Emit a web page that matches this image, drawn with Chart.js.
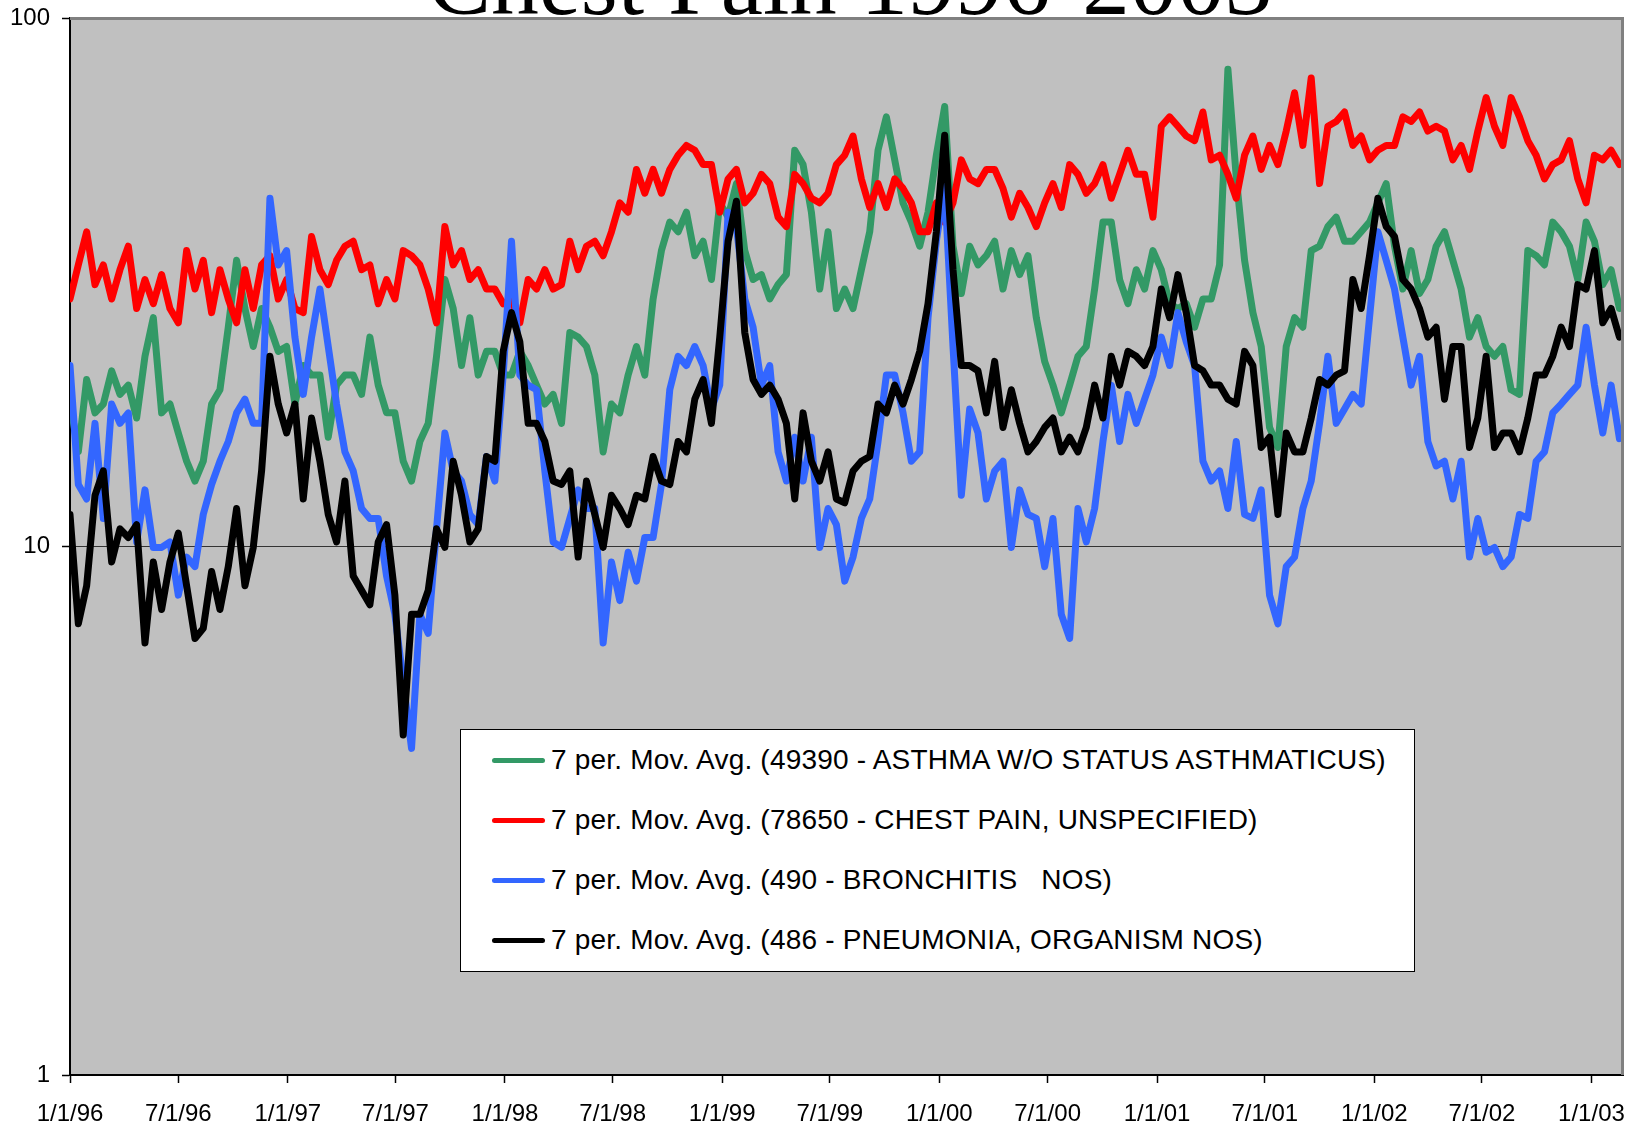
<!DOCTYPE html>
<html>
<head>
<meta charset="utf-8">
<title>Chest Pain 1996-2003</title>
<script src="https://cdn.jsdelivr.net/npm/chart.js@4.4.1/dist/chart.umd.min.js"></script>
<style>
  body { margin: 0; background: #fff; }
  #wrap { position: relative; width: 1633px; height: 1123px; }
  #legend {
    position: absolute; left: 460px; top: 729px; width: 953px; height: 241px;
    border: 1px solid #000; background: #fff;
    font-family: "Liberation Sans", Arial, sans-serif; font-size: 28px; letter-spacing: 0.2px; color: #000;
  }
  .row { height: 60px; display: flex; align-items: center; white-space: pre; }
  .swatch { width: 53px; height: 5px; border-radius: 3px; margin-left: 31px; margin-right: 6px; }
</style>
</head>
<body>
<div id="wrap">
  <canvas id="myChart" width="1633" height="1123"></canvas>
  <div id="legend"></div>
</div>
<script>
var ctx;
var myChart;

// one reading every 14 days, starting 1/1/96
var STEP_DAYS = 14;
var START = Date.UTC(1996, 0, 1);

var chartTitle = 'Chest Pain 1996-2003';

var seriesNames = [
  '7 per. Mov. Avg. (49390 - ASTHMA W/O STATUS ASTHMATICUS)',
  '7 per. Mov. Avg. (78650 - CHEST PAIN, UNSPECIFIED)',
  '7 per. Mov. Avg. (490 - BRONCHITIS   NOS)',
  '7 per. Mov. Avg. (486 - PNEUMONIA, ORGANISM NOS)'
];
var seriesColors = ['#339966', '#ff0000', '#3366ff', '#000000'];

var asthma = [
  18.8,15.1,20.7,17.9,18.6,21.5,19.4,20.2,17.5,22.9,27.1,17.9,18.6,16.4,14.5,13.3,14.5,18.6,19.8,26.0,
  34.8,28.2,23.9,28.2,26.0,23.4,23.9,18.6,22.0,21.1,21.1,16.1,20.2,21.1,21.1,19.4,24.9,20.2,17.9,17.9,
  14.5,13.3,15.8,17.1,22.9,32.0,28.2,22.0,
  27.1,21.1,23.4,23.4,21.1,21.1,23.4,22.0,20.2,18.6,19.4,17.1,25.4,24.9,23.9,21.1,15.1,18.6,17.9,21.1,
  23.9,21.1,29.4,36.3,41.1,39.4,42.9,35.5,37.8,32.0,44.7,42.0,48.6,36.3,32.0,32.7,29.4,31.3,32.7,56.2,
  52.8,42.9,30.7,39.4,28.2,30.7,28.2,
  33.4,39.4,56.2,65.0,53.9,44.7,41.1,37.0,42.9,55.0,68.0,37.0,30.1,37.0,34.1,35.5,37.8,30.7,36.3,32.7,
  35.5,27.1,22.4,20.2,17.9,20.2,22.9,23.9,30.7,41.1,41.1,32.0,28.8,33.4,30.7,36.3,33.4,28.8,28.2,28.8,
  26.0,29.4,29.4,34.1,80.0,50.0,34.8,
  27.7,23.9,16.8,15.4,23.9,27.1,26.0,36.3,37.0,40.3,42.0,37.8,37.8,39.4,41.1,44.7,48.6,37.0,30.7,36.3,
  30.1,32.0,37.0,39.4,34.8,30.7,24.9,27.1,23.9,22.9,23.9,19.8,19.4,36.3,35.5,34.1,41.1,39.4,37.0,32.0,
  41.1,37.8,31.3,33.4,28.2
];

var chestPain = [
  29.4,34.1,39.4,31.3,34.1,29.4,33.4,37.0,28.2,32.0,28.8,32.7,28.2,26.5,36.3,30.7,34.8,27.7,33.4,29.4,
  26.5,33.4,28.2,34.1,35.5,29.4,32.0,28.2,27.7,38.6,33.4,31.3,34.8,37.0,37.8,33.4,34.1,28.8,32.0,29.4,
  36.3,35.5,34.1,30.7,26.5,40.3,34.1,36.3,
  32.0,33.4,30.7,30.7,28.8,29.4,26.5,32.0,30.7,33.4,30.7,31.3,37.8,33.4,37.0,37.8,35.5,39.4,44.7,42.9,
  51.7,46.6,51.7,46.6,51.7,55.0,57.4,56.2,52.8,52.8,42.9,49.6,51.7,44.7,46.6,50.6,48.6,42.0,40.3,50.6,
  48.6,45.6,44.7,46.6,52.8,55.0,59.8,
  49.6,43.8,48.6,43.8,49.6,47.6,44.7,39.4,39.4,44.7,41.1,44.7,53.9,49.6,48.6,51.7,51.7,47.6,42.0,46.6,
  43.8,40.3,44.7,48.6,43.8,52.8,50.6,46.6,48.6,52.8,45.6,50.6,56.2,50.6,50.6,42.0,62.4,65.0,62.4,59.8,
  58.6,66.4,53.9,55.0,50.6,45.6,55.0,
  59.8,51.7,57.4,52.8,61.1,72.2,57.4,77.0,48.6,62.4,63.7,66.4,57.4,59.8,53.9,56.2,57.4,57.4,65.0,63.7,
  66.4,61.1,62.4,61.1,53.9,57.4,51.7,61.1,70.7,62.4,57.4,70.7,65.0,58.6,55.0,49.6,52.8,53.9,58.6,49.6,
  44.7,55.0,53.9,56.2,52.8
];

var bronchitis = [
  22.0,13.1,12.3,17.1,11.3,18.6,17.1,17.9,10.2,12.8,9.96,9.96,10.2,8.09,9.55,9.16,11.5,13.1,14.5,15.8,
  17.9,19.0,17.1,17.1,45.6,34.1,36.3,24.9,19.4,24.9,30.7,23.9,18.6,15.1,13.9,11.8,11.3,11.3,8.79,7.44,
  5.56,4.15,7.44,6.85,10.8,16.4,13.9,13.3,
  11.5,11.0,14.8,13.3,21.1,37.8,21.1,20.2,19.8,13.9,10.2,9.96,11.3,12.8,11.8,11.8,6.57,9.35,7.9,9.75,
  8.6,10.4,10.4,13.1,19.8,22.9,22.0,23.9,22.0,18.2,20.2,42.9,40.3,29.4,26.0,20.2,22.0,15.1,13.3,16.1,
  13.3,16.1,9.96,11.8,11.0,8.6,9.55,
  11.3,12.3,15.8,21.1,21.1,17.9,14.5,15.1,27.1,37.8,48.0,23.9,12.5,18.2,16.4,12.3,13.9,14.5,9.96,12.8,
  11.5,11.3,9.16,11.3,7.44,6.7,11.8,10.2,11.8,15.8,20.2,15.8,19.4,17.1,19.0,21.1,24.9,22.0,27.7,24.4,
  22.0,14.5,13.3,13.9,11.8,15.8,11.5,
  11.3,12.8,8.09,7.14,9.16,9.55,11.8,13.3,17.1,22.9,17.1,18.2,19.4,18.6,27.1,39.4,34.8,30.7,24.9,20.2,
  22.9,15.8,14.2,14.5,12.3,14.5,9.55,11.3,9.75,9.96,9.16,9.55,11.5,11.3,14.5,15.1,17.9,18.6,19.4,20.2,
  26.0,20.2,16.4,20.2,16.0
];

var pneumonia = [
  11.5,7.14,8.43,12.5,13.9,9.35,10.8,10.4,11.0,6.57,9.35,7.6,9.35,10.6,8.43,6.7,7.0,8.97,7.6,9.16,
  11.8,8.43,9.96,13.9,22.9,18.6,16.4,18.6,12.3,17.5,14.5,11.5,10.2,13.3,8.79,8.26,7.76,10.2,11.0,8.09,
  4.4,7.44,7.44,8.26,10.8,9.96,14.5,12.5,
  10.2,10.8,14.8,14.5,23.4,27.7,24.4,17.1,17.1,15.8,13.3,13.1,13.9,9.55,13.3,11.5,9.96,12.5,11.8,11.0,
  12.5,12.3,14.8,13.3,13.1,15.8,15.1,19.0,20.7,17.1,24.9,37.8,45.0,25.4,20.7,19.4,20.2,19.0,17.1,12.3,
  17.9,14.5,13.3,15.1,12.3,12.1,13.9,
  14.5,14.8,18.6,17.9,20.2,18.6,20.7,23.4,28.8,39.4,60.0,33.4,22.0,22.0,21.5,17.9,22.4,16.8,19.8,17.1,
  15.1,15.8,16.8,17.5,15.1,16.1,15.1,16.8,20.2,17.5,22.9,20.2,23.4,22.9,22.0,23.9,30.7,27.1,32.7,27.7,
  22.0,21.5,20.2,20.2,19.0,18.6,23.4,
  22.0,15.4,16.1,11.5,16.4,15.1,15.1,17.5,20.7,20.2,21.1,21.5,32.0,28.2,35.5,45.6,40.3,38.6,32.0,30.7,
  28.2,24.9,26.0,19.0,23.9,23.9,15.4,17.5,22.9,15.4,16.4,16.4,15.1,17.5,21.1,21.1,22.9,26.0,23.9,31.3,
  30.7,36.3,26.5,28.2,24.9
];

var tickLabels = ['1/1/96','7/1/96','1/1/97','7/1/97','1/1/98','7/1/98','1/1/99','7/1/99',
                  '1/1/00','7/1/00','1/1/01','7/1/01','1/1/02','7/1/02','1/1/03'];
var yTickValues = [1, 10, 100];
var yTickLabels = ['1', '10', '100'];

var lastDay = 2610;

/**
  Day number (since 1/1/96) of a m/d/yy label
*/
function dayOf(label) {
  var p = label.split('/');
  var yy = parseInt(p[2], 10);
  var year = yy > 50 ? 1900 + yy : 2000 + yy;
  return Math.round((Date.UTC(year, p[0] - 1, p[1]) - START) / 86400000);
}

/**
  Turn a list of readings into {x, y} points
*/
function toPoints(values) {
  return values.map(function (v, i) { return { x: i * STEP_DAYS, y: v }; });
}

var tickDays = tickLabels.map(dayOf);

var FONT = '"Liberation Sans", Arial, sans-serif';

var plotBackground = {
  id: 'plotBackground',
  beforeDraw: function (chart) {
    var c = chart.ctx, a = chart.chartArea;
    c.save();
    c.fillStyle = '#ffffff';
    c.fillRect(0, 0, chart.width, chart.height);
    c.fillStyle = '#c0c0c0';
    c.fillRect(a.left, a.top, a.right - a.left, a.bottom - a.top);
    c.restore();
  },
  afterDraw: function (chart) {
    var c = chart.ctx, a = chart.chartArea;
    c.save();
    // grey frame on top and right, the axes hold the other two sides
    c.strokeStyle = '#808080';
    c.lineWidth = 3;
    c.beginPath();
    c.moveTo(a.left, a.top + 0.5);
    c.lineTo(a.right - 0.5, a.top + 0.5);
    c.lineTo(a.right - 0.5, a.bottom);
    c.stroke();
    // title sits mostly above the canvas, as in the original
    c.fillStyle = '#000';
    c.font = '95px "Liberation Serif", "Times New Roman", serif';
    c.textAlign = 'center';
    c.textBaseline = 'alphabetic';
    c.fillText(chartTitle, 850, 14);
    c.restore();
  }
};

function buildLegend() {
  var box = document.getElementById('legend');
  for (var i = 0; i < seriesNames.length; i++) {
    var row = document.createElement('div');
    row.className = 'row';
    var sw = document.createElement('span');
    sw.className = 'swatch';
    sw.style.background = seriesColors[i];
    var txt = document.createElement('span');
    txt.textContent = seriesNames[i];
    row.appendChild(sw);
    row.appendChild(txt);
    box.appendChild(row);
  }
}

window.onload = function () {
  ctx = document.getElementById('myChart').getContext('2d');

  var allSeries = [asthma, chestPain, bronchitis, pneumonia];
  var datasets = [];
  for (var i = 0; i < allSeries.length; i++) {
    datasets.push({
      label: seriesNames[i],
      data: toPoints(allSeries[i]),
      borderColor: seriesColors[i],
      borderWidth: 7,
      pointRadius: 0,
      tension: 0,
      fill: false,
      clip: 0,
      borderJoinStyle: 'round',
      borderCapStyle: 'round',
      order: allSeries.length - i   // black drawn last, on top
    });
  }

  myChart = new Chart(ctx, {
    type: 'line',
    data: { datasets: datasets },
    plugins: [plotBackground],
    options: {
      responsive: false,
      devicePixelRatio: 1,
      animation: false,
      layout: { padding: { top: 18, right: 10, left: 0, bottom: 0 } },
      plugins: {
        legend: { display: false },
        title: { display: false },
        tooltip: { enabled: false }
      },
      scales: {
        x: {
          type: 'linear',
          min: 0,
          max: lastDay,
          afterBuildTicks: function (scale) {
            scale.ticks = tickDays.map(function (d) { return { value: d }; });
          },
          afterFit: function (scale) {
            scale.height = 48;
            scale.paddingLeft = 0;
            scale.paddingRight = 0;
          },
          ticks: {
            autoSkip: false,
            maxRotation: 0,
            padding: 17,
            color: '#000',
            font: { family: FONT, size: 24 },
            callback: function (v, i) { return tickLabels[i]; }
          },
          grid: {
            drawOnChartArea: false,
            color: 'rgba(0,0,0,0)',
            tickColor: '#000',
            tickLength: 8,
            tickWidth: 1.5
          },
          border: { display: true, color: '#000', width: 2 }
        },
        y: {
          type: 'logarithmic',
          min: 1,
          max: 100,
          afterBuildTicks: function (scale) {
            scale.ticks = yTickValues.map(function (v) { return { value: v }; });
          },
          afterFit: function (scale) {
            scale.width = 70;
            scale.paddingTop = 0;
            scale.paddingBottom = 0;
          },
          ticks: {
            padding: 12,
            color: '#000',
            font: { family: FONT, size: 24 },
            callback: function (v, i) { return yTickLabels[i]; }
          },
          grid: {
            color: function (c) { return c.tick && c.tick.value === 10 ? '#333' : 'rgba(0,0,0,0)'; },
            lineWidth: 1,
            tickColor: '#000',
            tickLength: 8,
            tickWidth: 1.5
          },
          border: { display: true, color: '#000', width: 2 }
        }
      }
    }
  });

  buildLegend();
};
</script>
</body>
</html>
